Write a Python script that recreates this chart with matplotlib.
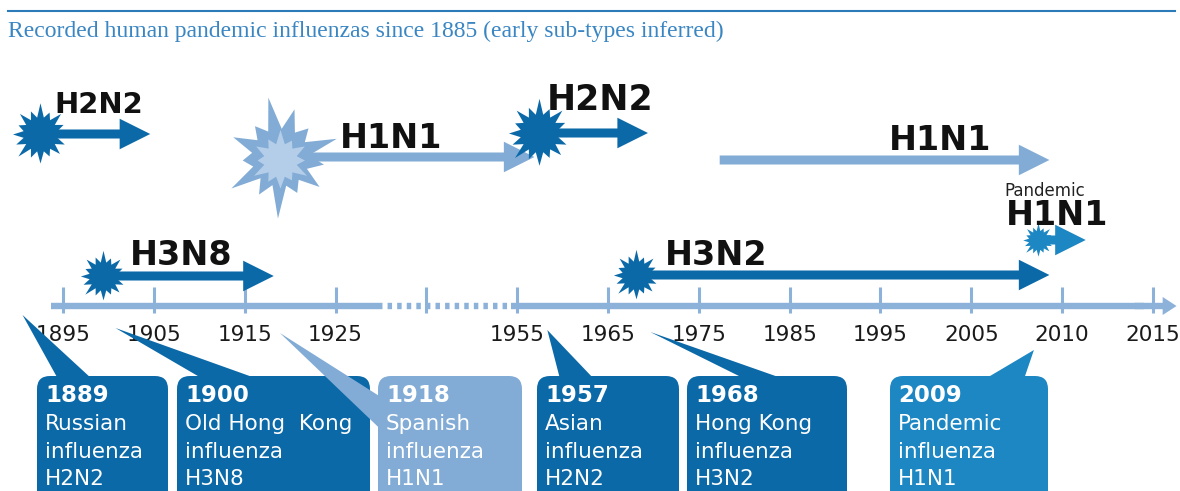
import numpy as np
import matplotlib.pyplot as plt
from matplotlib.patches import FancyBboxPatch, Polygon

# timeline ticks (evenly spaced on the chart, break between 1925 and 1955)
tick_years = [1895, 1905, 1915, 1925, 1940, 1955, 1965, 1975, 1985, 1995, 2005, 2010, 2015]
tick_labels = ['1895', '1905', '1915', '1925', '', '1955', '1965', '1975',
               '1985', '1995', '2005', '2010', '2015']

# circulating sub-types: start (burst) and end of each arrow, in years
sub_names = ['H2N2', 'H1N1', 'H2N2', 'H1N1', 'H1N1', 'H3N8', 'H3N2']
sub_start = [1892.5, 1918.9, 1957.4, 1977.3, 2008.7, 1899.4, 1968.1]
sub_end = [1904.6, 1956.9, 1969.4, 2009.3, 2011.3, 1918.2, 2009.3]
sub_label_year = [1894.1, 1925.8, 1958.3, 1995.9, 2006.9, 1902.4, 1971.3]

# recorded pandemics
pan_years = [1889, 1900, 1918, 1957, 1968, 2009]
pan_names = ['Russian\ninfluenza', 'Old Hong  Kong\ninfluenza', 'Spanish\ninfluenza',
             'Asian\ninfluenza', 'Hong Kong\ninfluenza', 'Pandemic\ninfluenza']
pan_types = ['H2N2', 'H3N8', 'H1N1', 'H2N2', 'H3N2', 'H1N1']

title = 'Recorded human pandemic influenzas since 1885 (early sub-types inferred)'

# ---- styling / layout (pixels) ----
W, H = 1180, 491
DARK = '#0b69a8'
LIGHT = '#82acd5'
MID = '#1c87c2'
AXIS = '#8cb2d9'

sub_y = [134, 157, 133, 160, 240, 276, 275]
sub_lab_y = [113, 148, 110, 150, 225, 265, 265]
sub_lab_size = [21, 24, 25, 24, 24, 24, 24]
sub_col = [DARK, LIGHT, DARK, LIGHT, MID, DARK, DARK]
sub_star = [45, 88, 50, 0, 25, 37, 37]

box_x0 = [37, 177, 378, 537, 687, 890]
box_x1 = [168, 370, 522, 679, 847, 1048]
box_col = [DARK, DARK, LIGHT, DARK, DARK, MID]
tip_y = [315, 328, 333, 330, 332, 350]
tip_dx = [14, 7, 8, 12, 15, -10]
ptr_base = [[(58, 379), (92, 379)], [(203, 379), (258, 379)], [(395, 406), (395, 443)],
            [(560, 379), (594, 379)], [(745, 379), (784, 379)], [(985, 379), (1024, 379)]]
BOX_TOP = 376

slots = np.arange(len(tick_years), dtype=float)


def fwd(yr):
    yr = np.asarray(yr, dtype=float)
    s = np.interp(yr, tick_years, slots)
    s = np.where(yr < tick_years[0], (yr - tick_years[0]) / 10.0, s)
    s = np.where(yr > tick_years[-1], slots[-1] + (yr - tick_years[-1]) / 5.0, s)
    return s


def inv(s):
    s = np.asarray(s, dtype=float)
    yr = np.interp(s, slots, tick_years)
    yr = np.where(s < 0, tick_years[0] + s * 10.0, yr)
    yr = np.where(s > slots[-1], tick_years[-1] + (s - slots[-1]) * 5.0, yr)
    return yr


def burst(n, outer, inner, rot=0.0):
    ang = np.pi / 2 + rot + np.arange(2 * n) * np.pi / n
    r = np.empty(2 * n)
    r[0::2] = [outer[i % len(outer)] for i in range(n)]
    r[1::2] = inner
    return np.column_stack([r * np.cos(ang), r * np.sin(ang)])


dark_burst = burst(16, [1.0, 0.8, 0.93, 0.76, 0.88, 0.84], 0.55)
big_burst = burst(13, [1.0, 0.66, 0.84, 0.62, 0.95, 0.7, 1.0, 0.64, 0.8, 0.72, 0.97, 0.66, 0.82], 0.47, 0.2)
inner_burst = burst(12, [1.0, 0.8, 0.92, 0.75], 0.55)

fig = plt.figure(figsize=(W / 100, H / 100), dpi=100)
ax = fig.add_axes([0, 0, 1, 1])
ax.set_xscale('function', functions=(fwd, inv))
ax.set_xlim(1888.06, 2016.49)
ax.set_ylim(H, 0)
ax.axis('off')

# time axis
ax.plot([1893.7, 1932.0], [306, 306], color=AXIS, lw=4.6, solid_capstyle='butt')
ax.plot([1932.0, 1954.0], [306, 306], color=AXIS, lw=4.6, ls=(0, (0.7, 0.8)))
ax.plot([1954.0, 2014.5], [306, 306], color=AXIS, lw=4.6, solid_capstyle='butt')
ax.annotate('', xy=(2016.3, 306), xytext=(2014.0, 306),
            arrowprops=dict(arrowstyle='simple,head_length=1.0,head_width=1.3,tail_width=0.46',
                            color=AXIS, lw=0, shrinkA=0, shrinkB=0, mutation_scale=10))
ax.vlines(tick_years, 287, 313, color=AXIS, lw=2.2)
for yr, lab in zip(tick_years, tick_labels):
    ax.text(yr, 341, lab, ha='center', va='baseline', fontsize=15.5, color='#1a1a1a')

# sub-type arrows and bursts
for i, name in enumerate(sub_names):
    y = sub_y[i]
    ax.annotate('', xy=(sub_end[i], y), xytext=(sub_start[i], y),
                arrowprops=dict(arrowstyle='simple,head_length=2.2,head_width=2.2,tail_width=0.65',
                                color=sub_col[i], lw=0, shrinkA=0, shrinkB=0, mutation_scale=10))
    if sub_star[i] > 60:
        ax.plot(sub_start[i], y, marker=big_burst, ms=sub_star[i], color=sub_col[i], mew=0, zorder=5)
        ax.plot(sub_start[i], y + 3, marker=inner_burst, ms=44, color='#b4cde9', mew=0, zorder=6)
    elif sub_star[i] > 0:
        ax.plot(sub_start[i], y, marker=dark_burst, ms=sub_star[i], color=sub_col[i], mew=0, zorder=5)
    ax.text(sub_label_year[i], sub_lab_y[i], name, ha='left', va='baseline',
            fontsize=sub_lab_size[i], fontweight='bold', color='#111111', zorder=7)
ax.text(2006.8, 196, 'Pandemic', ha='left', va='baseline', fontsize=12, color='#222222')

# overlay in pixel units for the call-out boxes and the title
lay = fig.add_axes([0, 0, 1, 1])
lay.set_xlim(0, W)
lay.set_ylim(H, 0)
lay.axis('off')
lay.patch.set_alpha(0)

lay.plot([8, 1175], [11, 11], color='#2c7bb9', lw=1.5)
lay.text(8, 31, title, ha='left', va='center', fontsize=17, family='Liberation Serif',
         color='#3a86c3')

for i, yr in enumerate(pan_years):
    tip_x = ax.transData.transform((yr, 0))[0] + tip_dx[i]
    (bx0, by0), (bx1, by1) = ptr_base[i]
    lay.add_patch(Polygon([(tip_x, tip_y[i]), (bx0, by0), (bx1, by1)], closed=True,
                          facecolor=box_col[i], edgecolor='none'))
    x0, x1 = box_x0[i], box_x1[i]
    lay.add_patch(FancyBboxPatch((x0, BOX_TOP), x1 - x0, 140,
                                 boxstyle='round,pad=0,rounding_size=13',
                                 facecolor=box_col[i], edgecolor='none'))
    lay.text(x0 + 8, 402, str(yr), ha='left', va='baseline', fontsize=16.5,
             fontweight='bold', color='white')
    lines = pan_names[i].split('\n') + [pan_types[i]]
    for k, line in enumerate(lines):
        lay.text(x0 + 8, 430 + 27.5 * k, line, ha='left', va='baseline',
                 fontsize=15.5, color='white')

fig.savefig('out.png', dpi=100)
